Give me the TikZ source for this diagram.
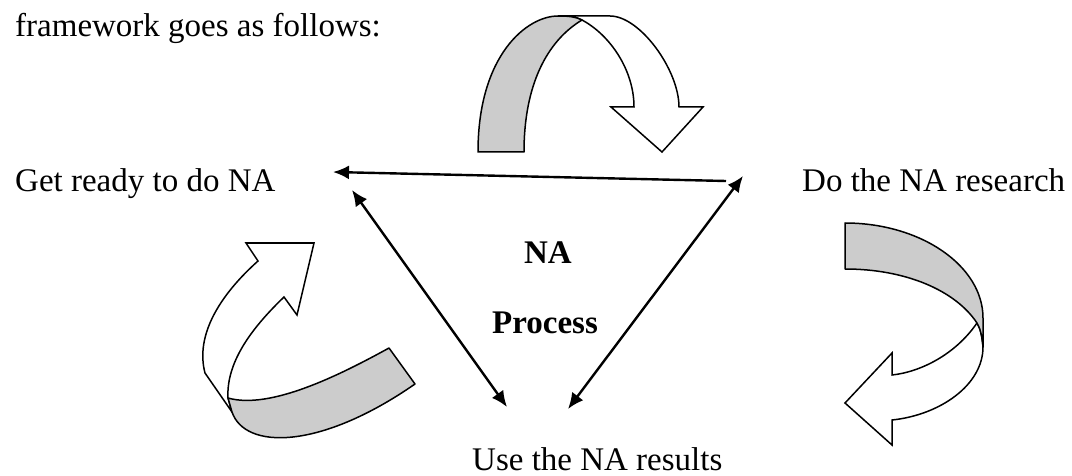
\documentclass[tikz,border=0pt]{standalone}
\usepackage{fontspec}
\setmainfont{Liberation Serif}
\usetikzlibrary{arrows.meta}
\begin{document}
\begin{tikzpicture}[x=1pt,y=-1pt,
  txt/.style={inner sep=0pt,font=\fontsize{33}{40}\selectfont},
  bold/.style={txt,font=\fontsize{33}{40}\selectfont\bfseries},
  link/.style={line width=2.4pt,{Latex[length=16pt,width=14pt]}-{Latex[length=16pt,width=14pt]}},
  onelink/.style={line width=2.4pt,-{Latex[length=16pt,width=14pt]}},
  band/.style={draw=black,line width=1.5pt,fill=black!20,line join=round},
  blockarrow/.style={draw=black,line width=1.5pt,fill=white,line join=miter}]
\useasboundingbox (0,0) rectangle (1072,476);

% texts
\node[txt,anchor=base west] (intro) at (15,37) {framework goes as follows:};
\node[txt,anchor=base west] (ready) at (15,192) {Get ready to do NA};
\node[txt,anchor=base west] (research) at (802,192) {Do the NA research};
\node[txt,anchor=base west] (use) at (472,470) {Use the NA results};
\node[bold,anchor=base] (na) at (548,263) {NA};
\node[bold,anchor=base] (process) at (545,333) {Process};

% connector ends
\coordinate (ready-e) at (333,172);
\coordinate (ready-se) at (352,190);
\coordinate (research-w) at (726,181);
\coordinate (research-sw) at (743,176);
\coordinate (use-nw) at (507,407);
\coordinate (use-ne) at (568,409);

\draw[onelink] (research-w) -- (ready-e);
\draw[link] (ready-se) -- (use-nw);
\draw[link] (research-sw) -- (use-ne);

% curved block arrow above the top connector
\path[blockarrow] (558,16) -- (610,16)
  .. controls (640,16) and (679,70) .. (679,107)
  -- (703,107) -- (662,152) -- (611,107) -- (634,107)
  .. controls (634,70) and (610,35) .. (582,20)
  .. controls (576,17) and (570,16) .. (558,16) -- cycle;
\path[band] (478,152) .. controls (478,55) and (527,16) .. (558,16)
  .. controls (570,16) and (576,17) .. (582,20)
  .. controls (547,41) and (524,85) .. (524,152) -- cycle;

% curved block arrow on the right
\path[blockarrow] (977,323) .. controls (955,355) and (920,372) .. (892,375)
  -- (892,353) -- (845,403) -- (892,445) -- (892,420)
  .. controls (940,415) and (983,385) .. (983,347)
  .. controls (982,335) and (980,328) .. (977,323) -- cycle;
\path[band] (845,223) .. controls (921,223) and (983,266) .. (983,318)
  -- (983,347)
  .. controls (982,335) and (980,328) .. (977,323)
  .. controls (955,290) and (905,269) .. (845,269) -- cycle;

% curved block arrow on the left
\path[blockarrow] (228,398) .. controls (226,360) and (255,325) .. (284,297)
  -- (297,315) -- (314,243) -- (246,243) -- (258,261)
  .. controls (220,295) and (195,335) .. (205,373)
  -- (232,412) -- (228,398) -- cycle;
\path[band] (389,348) .. controls (340,375) and (270,410) .. (228,398)
  -- (232,412)
  .. controls (245,450) and (320,450) .. (415,384) -- cycle;
\end{tikzpicture}
\end{document}
